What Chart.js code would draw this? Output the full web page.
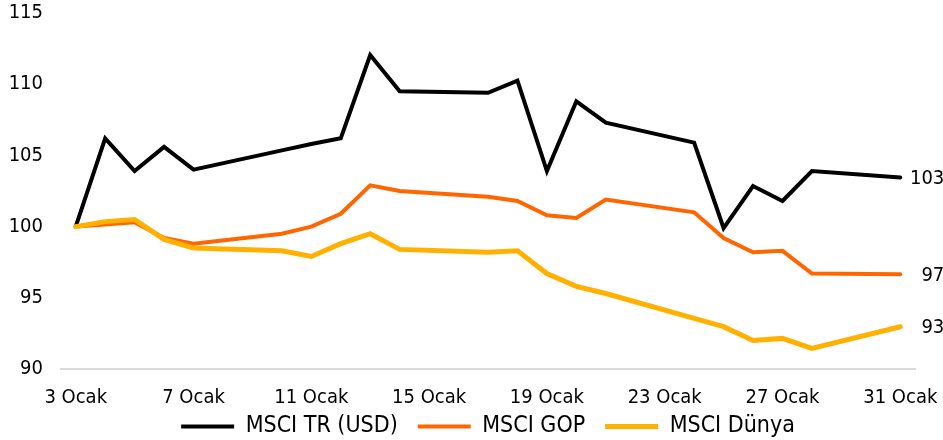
<!DOCTYPE html>
<html>
<head>
<meta charset="utf-8">
<script src="https://cdn.jsdelivr.net/npm/chart.js@4.4.1/dist/chart.umd.min.js"></script>
<style>
  html, body { margin: 0; padding: 0; background: #ffffff; }
  #wrap { width: 943px; height: 440px; position: relative; }
</style>
</head>
<body>
<div id="wrap"><canvas id="c" width="943" height="440"></canvas></div>
<script>
// Categories: every calendar day 3..31 Ocak (weekends have no data)
const categories = [];
for (let d = 3; d <= 31; d++) categories.push(d + ' Ocak');

const seriesNames = ['MSCI TR (USD)', 'MSCI GOP', 'MSCI Dünya'];
const seriesColors = ['#000000', '#FF6600', '#FFB000'];

//                3      4      5      6      7     8     9     10      11     12     13      14    15    16    17     18      19     20     21    22    23    24     25     26      27     28    29    30    31
const msciTR    = [100, 106.2, 103.9, 105.6, 104.0, null, null, 105.35, 105.8, 106.2, 112.05, 109.5, null, null, 109.4, 110.25, 103.9, 108.8, 107.3, null, null, 105.9, 99.9, 102.85, 101.8, 103.9, null, null, 103.45];
const msciGOP   = [100, 100.15, 100.3, 99.2, 98.8, null, null, 99.5, 100.0, 100.9, 102.9, 102.5, null, null, 102.1, 101.8, 100.8, 100.6, 101.9, null, null, 101.0, 99.2, 98.2, 98.3, 96.7, null, null, 96.65];
const msciDunya = [100, 100.35, 100.5, 99.1, 98.5, null, null, 98.3, 97.9, 98.8, 99.5, 98.4, null, null, 98.2, 98.3, 96.7, 95.8, 95.3, null, null, 93.55, 92.97, 92.0, 92.15, 91.45, null, null, 92.97];

const yTicks = [90, 95, 100, 105, 110, 115];

const FONT = "'DejaVu Sans Condensed', 'DejaVu Sans', sans-serif";

const endLabels = {
  id: 'endLabels',
  afterDatasetsDraw(chart) {
    const ctx = chart.ctx;
    ctx.save();
    ctx.font = '20px ' + FONT;
    ctx.fillStyle = '#000';
    ctx.textAlign = 'right';
    ctx.textBaseline = 'middle';
    chart.data.datasets.forEach((ds, i) => {
      const meta = chart.getDatasetMeta(i);
      const last = ds.data.length - 1;
      const el = meta.data[last];
      ctx.fillText(Math.round(ds.data[last]).toString(), el.x + 44, el.y + 1);
    });
    ctx.restore();
  }
};

const allSeries = [msciTR, msciGOP, msciDunya];
const widths = [4, 4, 5];
const orders = [3, 2, 1];

new Chart(document.getElementById('c'), {
  type: 'line',
  data: {
    labels: categories,
    datasets: allSeries.map((s, i) => ({
      label: seriesNames[i],
      data: s,
      borderColor: seriesColors[i],
      backgroundColor: seriesColors[i],
      borderWidth: widths[i],
      borderCapStyle: 'round',
      pointRadius: 0,
      pointHoverRadius: 0,
      tension: 0,
      spanGaps: true,
      fill: false,
      order: orders[i]
    }))
  },
  options: {
    responsive: false,
    animation: false,
    devicePixelRatio: 1,
    layout: { padding: { top: 13, right: 28, left: 0, bottom: -8 } },
    plugins: {
      tooltip: { enabled: false },
      legend: {
        position: 'bottom',
        fullSize: false,
        labels: {
          usePointStyle: true,
          pointStyle: 'line',
          pointStyleWidth: 53,
          padding: 20,
          color: '#000',
          font: { family: FONT, size: 23 },
          sort: (a, b) => a.datasetIndex - b.datasetIndex
        }
      }
    },
    scales: {
      x: {
        offset: true,
        grid: { display: false, drawTicks: false },
        border: { display: true, color: '#D9D9D9', width: 2 },
        ticks: {
          autoSkip: false,
          maxRotation: 0,
          padding: 17,
          color: '#000',
          font: { family: FONT, size: 20 },
          callback: function (v, i) { return i % 4 === 0 ? categories[i] : ''; }
        },
        afterFit: (s) => { s.height = 26; s.paddingLeft = 0; s.paddingRight = 0; },
        afterUpdate: (s) => { s._computeLabelArea = () => undefined; }
      },
      y: {
        min: yTicks[0],
        max: yTicks[yTicks.length - 1],
        grid: { display: false, drawTicks: false },
        border: { display: false },
        afterBuildTicks: (s) => { s.ticks = yTicks.map(v => ({ value: v })); },
        ticks: {
          padding: 18,
          color: '#000',
          font: { family: FONT, size: 20 }
        },
        afterFit: (s) => { s.width = 61; s.paddingTop = 0; s.paddingBottom = 0; }
      }
    }
  },
  plugins: [endLabels]
});
</script>
</body>
</html>
